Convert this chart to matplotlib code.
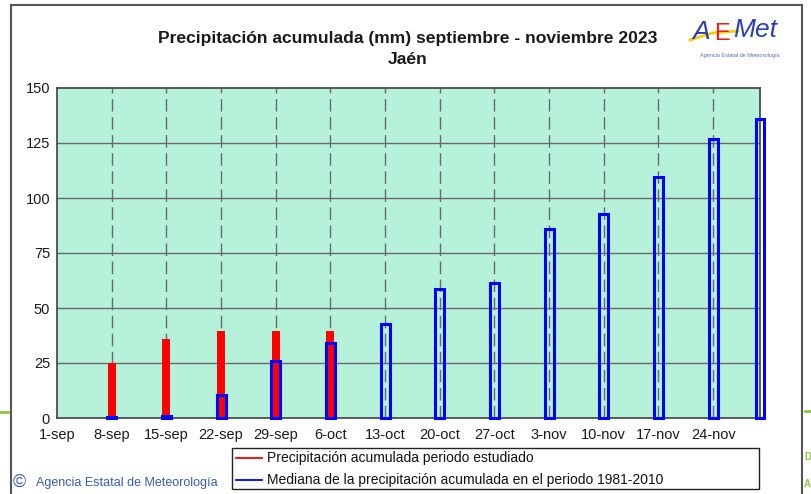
import matplotlib.pyplot as plt
from matplotlib.lines import Line2D
from matplotlib.patches import Rectangle

plt.rcParams['font.family'] = ['Liberation Sans', 'DejaVu Sans']

# days counted from 1 sep (day 0)
tick_days = [0, 7, 14, 21, 28, 35, 42, 49, 56, 63, 70, 77, 84]
tick_labels = ['1-sep', '8-sep', '15-sep', '22-sep', '29-sep', '6-oct', '13-oct',
               '20-oct', '27-oct', '3-nov', '10-nov', '17-nov', '24-nov']

red_days = [7, 14, 21, 28, 35]
red_vals = [25, 36, 39.5, 39.5, 39.5]

blue_days = [7, 14, 21, 28, 35, 42, 49, 56, 63, 70, 77, 84, 90]
blue_vals = [0.5, 1, 10.5, 26, 34, 42.8, 58.6, 61.4, 86, 92.6, 109.5, 126.8, 135.8]

W, H = 812, 494
fig = plt.figure(figsize=(W / 100, H / 100), dpi=100)

def fx(px):
    return px / W

def fy(py):
    return 1 - py / H

ax = fig.add_axes([fx(57), fy(418), fx(760) - fx(57), fy(88) - fy(418)])
ax.set_facecolor('#b5f2d9')

for v in [25, 50, 75, 100, 125]:
    ax.axhline(v, color='#6a6a6a', lw=1, zorder=1)
for d in tick_days[1:]:
    ax.axvline(d, color='#6a6a6a', lw=1, dashes=(9, 4), zorder=1)

ax.bar(red_days, red_vals, width=1.0, color='#ff0000', zorder=2)
ax.bar(blue_days, blue_vals, width=1.15, fill=False, edgecolor='#0000ff',
       linewidth=2.2, zorder=3, clip_on=False)

ax.set_xlim(0, 90)
ax.set_ylim(0, 150)
ax.set_xticks(tick_days)
ax.set_xticklabels(tick_labels)
ax.set_yticks([0, 25, 50, 75, 100, 125, 150])
ax.tick_params(length=0, labelsize=10.5, colors='#1a1a1a', pad=7)
ax.tick_params(axis='y', pad=5)
for s in ax.spines.values():
    s.set_color('#404040')
    s.set_linewidth(1.2)

fig.text(fx(408), fy(39), 'Precipitación acumulada (mm) septiembre - noviembre 2023',
         ha='center', va='center', fontsize=12.6, fontweight='bold', color='#1a1a1a')
fig.text(fx(408), fy(60), 'Jaén', ha='center', va='center', fontsize=12.6,
         fontweight='bold', color='#1a1a1a')

# outer frame and page bits
fig.add_artist(Line2D([fx(11), fx(11)], [0, fy(5)], color='#555555', lw=1.5))
fig.add_artist(Line2D([fx(11), fx(802)], [fy(5), fy(5)], color='#555555', lw=1.5))
fig.add_artist(Line2D([fx(802), fx(802)], [0, fy(5)], color='#555555', lw=1.5))
fig.add_artist(Line2D([0, fx(8)], [fy(412), fy(412)], color='#8cc63f', lw=2))
fig.add_artist(Line2D([fx(805), 1], [fy(411), fy(411)], color='#8cc63f', lw=2))
fig.text(fx(804), fy(457), 'D', fontsize=7, fontweight='bold', color='#8cc63f', va='center')
fig.text(fx(804), fy(484), 'A', fontsize=7, fontweight='bold', color='#8cc63f', va='center')

# legend box
fig.add_artist(Rectangle((fx(232), fy(489)), fx(759) - fx(232), fy(448) - fy(489),
                         fill=False, edgecolor='#222222', lw=1))
fig.add_artist(Line2D([fx(236), fx(262)], [fy(458), fy(458)], color='#ff0000', lw=1.3))
fig.add_artist(Line2D([fx(236), fx(262)], [fy(480), fy(480)], color='#0000ff', lw=1.3))
fig.text(fx(267), fy(458), 'Precipitación acumulada periodo estudiado', fontsize=10,
         va='center', color='#111111')
fig.text(fx(267), fy(480), 'Mediana de la precipitación acumulada en el periodo 1981-2010',
         fontsize=10, va='center', color='#111111')

fig.text(fx(13), fy(482), '©', fontsize=13, va='center', color='#3a5cb0')
fig.text(fx(36), fy(483), 'Agencia Estatal de Meteorología', fontsize=9, va='center',
         color='#3a5cb0')

# logo
fig.text(fx(692), fy(32), 'A', fontsize=19, style='italic', color='#2a3fb5', va='center')
fig.text(fx(714), fy(34), 'E', fontsize=17, color='#e32020', va='center')
fig.text(fx(733), fy(30), 'Met', fontsize=19, style='italic', color='#2a3fb5', va='center')
fig.add_artist(Line2D([fx(690), fx(712), fx(738)], [fy(40), fy(33), fy(31)],
                      color='#f5d000', lw=2))
fig.text(fx(740), fy(55), 'Agencia Estatal de Meteorología', fontsize=4, ha='center',
         va='center', color='#5070b0')

fig.savefig('out.png', dpi=100)
